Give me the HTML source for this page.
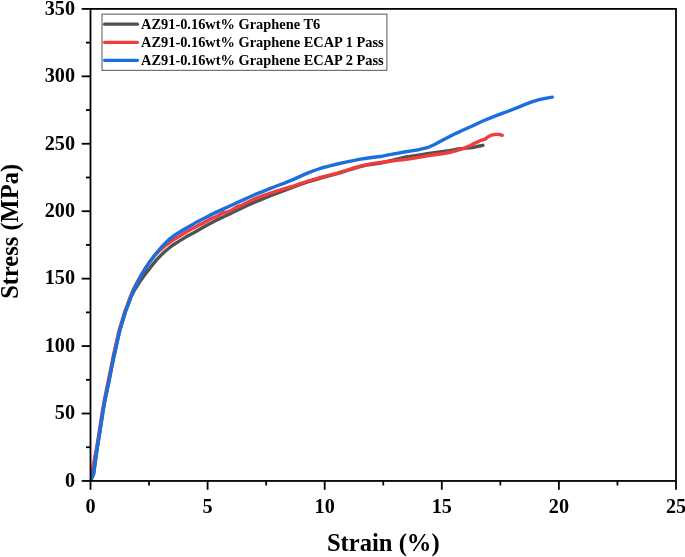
<!DOCTYPE html>
<html>
<head>
<meta charset="utf-8">
<title>Stress-Strain</title>
<style>
html,body{margin:0;padding:0;background:#fff;}
body{width:685px;height:557px;overflow:hidden;}
svg{display:block;}
text{font-family:"Liberation Serif","Times New Roman",serif;font-weight:bold;fill:#000;}
</style>
</head>
<body>
<svg width="685" height="557" viewBox="0 0 685 557">
<rect x="0" y="0" width="685" height="557" fill="#ffffff"/>
<clipPath id="plot"><rect x="90.50" y="8.90" width="585.50" height="472.05"/></clipPath>
<g fill="none" stroke-linecap="round" stroke-linejoin="round" stroke-width="3.4" clip-path="url(#plot)">
<path stroke="#515151" d="M90.6,481.0 L93.6,474.0 L97.0,450.0 L100.2,430.0 L103.2,410.0 L105.2,399.2 L106.8,391.9 L108.2,384.6 L109.8,377.3 L111.2,370.0 L113.4,359.2 L115.0,351.9 L116.6,344.6 L118.2,337.3 L119.9,330.0 L123.2,319.2 L125.4,311.9 L128.2,304.6 L130.8,297.3 L134.5,290.0 L140.2,281.1 L146.8,272.1 L152.4,264.9 L157.2,259.1 L164.6,251.7 L171.9,245.8 L179.2,241.1 L186.5,236.6 L193.8,232.8 L202.3,227.7 L209.6,223.7 L216.9,219.9 L224.2,216.5 L231.5,213.1 L238.8,209.4 L247.3,205.4 L254.6,202.2 L261.9,199.3 L269.2,196.1 L276.5,193.4 L283.8,190.7 L292.3,187.3 L299.6,184.6 L306.9,182.2 L314.2,180.0 L321.5,177.8 L328.8,175.9 L337.3,173.7 L344.6,171.3 L351.9,169.0 L359.2,166.9 L366.5,165.1 L373.8,164.0 L382.3,162.7 L389.6,161.0 L396.9,159.1 L404.2,157.3 L411.5,156.2 L418.8,155.1 L427.3,153.8 L434.6,152.8 L441.9,151.7 L449.2,150.6 L456.5,149.3 L463.8,148.4 L470.0,147.9 L472.3,147.6 L479.6,146.0 L482.9,145.3"/>
<path stroke="#F03C3C" d="M90.4,480.6 L96.2,450.0 L99.5,430.0 L102.5,410.0 L104.5,399.2 L106.0,391.9 L107.5,384.6 L109.0,377.3 L110.5,370.0 L112.7,359.2 L114.2,351.9 L115.9,344.6 L117.5,337.3 L119.2,330.0 L122.5,319.2 L124.7,311.9 L127.5,304.6 L130.1,297.3 L133.1,290.0 L137.4,281.9 L141.5,274.6 L145.6,267.9 L149.7,261.9 L153.8,256.7 L158.0,252.0 L164.6,246.2 L171.9,240.8 L179.2,236.2 L186.5,231.8 L193.8,227.8 L200.1,224.5 L202.3,223.4 L209.6,219.4 L216.9,216.3 L222.7,213.0 L227.8,211.8 L231.5,210.2 L237.3,206.7 L241.7,205.3 L247.3,202.2 L254.6,198.9 L261.9,196.2 L269.2,193.7 L276.5,191.1 L283.8,188.9 L292.3,186.5 L299.6,183.9 L306.9,181.5 L314.2,179.3 L321.5,177.1 L328.8,175.3 L337.3,173.1 L344.6,170.8 L351.9,168.5 L359.2,166.4 L366.5,164.6 L373.8,163.4 L382.3,162.3 L389.6,161.3 L396.9,160.4 L404.2,159.6 L411.5,158.6 L418.8,157.3 L427.3,155.8 L434.6,154.7 L441.9,153.8 L449.2,152.5 L456.5,150.6 L463.8,148.4 L470.0,145.8 L472.3,144.4 L479.6,141.0 L485.4,138.8 L489.1,136.2 L491.3,135.2 L495.7,134.4 L499.3,134.4 L502.2,135.3"/>
<path stroke="#1A6FDF" d="M90.6,481.0 L93.5,474.0 L96.8,450.0 L100.0,430.0 L103.1,410.0 L105.0,399.2 L106.6,391.9 L108.1,384.6 L109.6,377.3 L111.0,370.0 L113.2,359.2 L114.8,351.9 L116.4,344.6 L118.1,337.3 L119.8,330.0 L123.0,319.2 L125.2,311.9 L128.0,304.6 L130.7,297.3 L133.7,290.0 L137.7,282.0 L141.7,274.6 L145.7,267.9 L149.7,261.8 L153.7,256.4 L157.8,251.5 L161.5,247.0 L168.8,239.7 L176.1,234.1 L183.4,229.7 L190.0,226.0 L195.0,223.1 L202.3,219.2 L209.6,215.4 L216.9,211.9 L224.2,208.6 L231.5,205.2 L238.8,201.9 L247.3,198.0 L254.6,194.7 L261.9,191.9 L269.2,188.9 L276.5,186.0 L283.8,183.3 L292.3,179.9 L299.6,176.6 L306.9,173.4 L314.2,170.5 L321.5,168.0 L328.8,166.1 L337.3,164.0 L344.6,162.4 L351.9,160.8 L359.2,159.4 L366.5,158.3 L373.8,157.3 L382.3,156.2 L389.6,154.7 L396.9,153.3 L404.2,152.0 L411.5,150.9 L418.8,149.7 L427.3,147.7 L434.6,144.5 L441.9,140.6 L449.2,136.8 L456.5,133.1 L463.8,129.8 L472.3,126.0 L479.6,122.5 L486.9,119.3 L494.2,116.4 L501.5,113.6 L508.8,111.0 L517.3,107.6 L524.6,104.6 L531.9,101.9 L539.2,99.7 L546.5,98.1 L552.3,97.1"/>
</g>
<g stroke="#000" stroke-width="1.8" fill="none">
<rect x="90.50" y="8.90" width="585.50" height="472.05"/>
<line x1="90.50" y1="480.95" x2="90.50" y2="489.75"/>
<line x1="149.05" y1="480.95" x2="149.05" y2="485.45"/>
<line x1="207.60" y1="480.95" x2="207.60" y2="489.75"/>
<line x1="266.15" y1="480.95" x2="266.15" y2="485.45"/>
<line x1="324.70" y1="480.95" x2="324.70" y2="489.75"/>
<line x1="383.25" y1="480.95" x2="383.25" y2="485.45"/>
<line x1="441.80" y1="480.95" x2="441.80" y2="489.75"/>
<line x1="500.35" y1="480.95" x2="500.35" y2="485.45"/>
<line x1="558.90" y1="480.95" x2="558.90" y2="489.75"/>
<line x1="617.45" y1="480.95" x2="617.45" y2="485.45"/>
<line x1="676.00" y1="480.95" x2="676.00" y2="489.75"/>
<line x1="90.50" y1="480.95" x2="81.70" y2="480.95"/>
<line x1="90.50" y1="447.23" x2="86.00" y2="447.23"/>
<line x1="90.50" y1="413.51" x2="81.70" y2="413.51"/>
<line x1="90.50" y1="379.80" x2="86.00" y2="379.80"/>
<line x1="90.50" y1="346.08" x2="81.70" y2="346.08"/>
<line x1="90.50" y1="312.36" x2="86.00" y2="312.36"/>
<line x1="90.50" y1="278.64" x2="81.70" y2="278.64"/>
<line x1="90.50" y1="244.92" x2="86.00" y2="244.92"/>
<line x1="90.50" y1="211.21" x2="81.70" y2="211.21"/>
<line x1="90.50" y1="177.49" x2="86.00" y2="177.49"/>
<line x1="90.50" y1="143.77" x2="81.70" y2="143.77"/>
<line x1="90.50" y1="110.05" x2="86.00" y2="110.05"/>
<line x1="90.50" y1="76.34" x2="81.70" y2="76.34"/>
<line x1="90.50" y1="42.62" x2="86.00" y2="42.62"/>
<line x1="90.50" y1="8.90" x2="81.70" y2="8.90"/>
</g>
<g font-size="20.2px">
<text x="90.50" y="512.7" text-anchor="middle">0</text>
<text x="207.60" y="512.7" text-anchor="middle">5</text>
<text x="324.70" y="512.7" text-anchor="middle">10</text>
<text x="441.80" y="512.7" text-anchor="middle">15</text>
<text x="558.90" y="512.7" text-anchor="middle">20</text>
<text x="676.00" y="512.7" text-anchor="middle">25</text>
<text x="75.0" y="486.80" text-anchor="end">0</text>
<text x="75.0" y="419.36" text-anchor="end">50</text>
<text x="75.0" y="351.93" text-anchor="end">100</text>
<text x="75.0" y="284.49" text-anchor="end">150</text>
<text x="75.0" y="217.06" text-anchor="end">200</text>
<text x="75.0" y="149.62" text-anchor="end">250</text>
<text x="75.0" y="82.19" text-anchor="end">300</text>
<text x="75.0" y="14.75" text-anchor="end">350</text>
</g>
<text x="383.3" y="551.3" text-anchor="middle" font-size="24.6px">Strain (%)</text>
<text transform="translate(18.4,231.4) rotate(-90)" text-anchor="middle" font-size="24.5px">Stress (MPa)</text>
<g>
<rect x="102.0" y="14.1" width="284.9" height="56.2" fill="#fff" stroke="#444" stroke-width="0.9"/>
<g stroke-width="3.3" stroke-linecap="round">
<line x1="104.6" y1="24.2" x2="137.4" y2="24.2" stroke="#515151"/>
<line x1="104.6" y1="42.3" x2="137.4" y2="42.3" stroke="#F03C3C"/>
<line x1="104.6" y1="60.3" x2="137.4" y2="60.3" stroke="#1A6FDF"/>
</g>
<g font-size="14.4px">
<text x="141" y="29.4">AZ91-0.16wt% Graphene T6</text>
<text x="141" y="47.3">AZ91-0.16wt% Graphene ECAP 1 Pass</text>
<text x="141" y="65.3">AZ91-0.16wt% Graphene ECAP 2 Pass</text>
</g>
</g>
</svg>
</body>
</html>
